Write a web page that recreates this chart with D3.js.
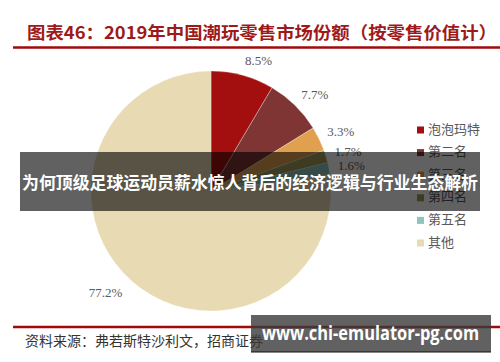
<!DOCTYPE html>
<html>
<head>
<meta charset="utf-8">
<script src="https://cdn.jsdelivr.net/npm/d3@7"></script>
<style>
  body { margin: 0; background: #fff; }
  svg { display: block; }
</style>
</head>
<body>
<div id="vis"></div>
<script>
// data
const categories = ['泡泡玛特', '第二名', '第三名', '第四名', '第五名', '其他'];
const shares = [8.5, 7.7, 3.3, 1.7, 1.6, 77.2];
const sliceColors = ['#A30F0F', '#7E3533', '#E0A050', '#A39B5E', '#8EC5BC', '#E8DAB2'];
const titleText = '图表46：2019年中国潮玩零售市场份额（按零售价值计）';
const sourceText = '资料来源：弗若斯特沙利文，招商证券';
const bannerText = '为何顶级足球运动员薪水惊人背后的经济逻辑与行业生态解析';
const watermarkText = 'www.chi-emulator-pg.com';

let width = 500, height = 362;

let svg = d3.select('#vis')
  .append('svg')
  .attr('width', width)
  .attr('height', height)
  .attr('viewBox', [0, 0, width, height].join(' '));

// title + rule
svg.append('text')
  .attr('x', 27).attr('y', 39)
  .attr('font-family', '"Noto Sans CJK SC", sans-serif')
  .attr('font-weight', 'bold')
  .attr('font-size', 17)
  .attr('fill', '#9E1A1A')
  .attr('textLength', 470)
  .attr('lengthAdjust', 'spacingAndGlyphs')
  .text(titleText);

svg.append('line')
  .attr('x1', 13).attr('x2', 500)
  .attr('y1', 47.5).attr('y2', 47.5)
  .attr('stroke', '#A00A0A')
  .attr('stroke-width', 2.5);

// pie
let cx = 211, cy = 191, r = 120;
let pie = d3.pie().sort(null).value(d => d);
let arcs = pie(shares);
let arc = d3.arc().innerRadius(0).outerRadius(r);
let labelArc = d3.arc().innerRadius(r + 9).outerRadius(r + 9);

let g = svg.append('g').attr('transform', `translate(${cx},${cy})`);

g.selectAll('path.slice')
  .data(arcs)
  .enter().append('path')
  .attr('class', 'slice')
  .attr('d', arc)
  .attr('fill', (d, i) => sliceColors[i])
  .attr('stroke', '#fff')
  .attr('stroke-width', 0.3);

g.selectAll('text.lbl')
  .data(arcs)
  .enter().append('text')
  .attr('class', 'lbl')
  .each(function (d) {
    let mid = (d.startAngle + d.endAngle) / 2;
    let p = labelArc.centroid(d);
    let right = Math.sin(mid) >= 0;
    d3.select(this)
      .attr('x', p[0] + (right ? 0 : -4))
      .attr('y', p[1] - 6 * Math.cos(mid) + 1)
      .attr('text-anchor', right ? 'start' : 'end');
  })
  .attr('dominant-baseline', 'middle')
  .attr('font-family', '"Liberation Serif", "Times New Roman", serif')
  .attr('font-size', 13)
  .attr('fill', '#595959')
  .text(d => d.data.toFixed(1) + '%');

// legend
let legend = svg.append('g').attr('transform', 'translate(417,130)');
let rowStep = 22.6;
let rows = legend.selectAll('g.row')
  .data(categories)
  .enter().append('g')
  .attr('class', 'row')
  .attr('transform', (d, i) => `translate(0,${i * rowStep})`);

rows.append('rect')
  .attr('x', 0).attr('y', -3.5)
  .attr('width', 7).attr('height', 7)
  .attr('fill', (d, i) => sliceColors[i]);

rows.append('text')
  .attr('x', 11).attr('y', 0)
  .attr('dominant-baseline', 'middle')
  .attr('font-family', '"Noto Sans CJK SC", sans-serif')
  .attr('font-size', 13)
  .attr('fill', '#595959')
  .text(d => d);

// bottom rule + source
svg.append('line')
  .attr('x1', 13).attr('x2', 500)
  .attr('y1', 327).attr('y2', 327)
  .attr('stroke', '#A00A0A')
  .attr('stroke-width', 2.5);

svg.append('text')
  .attr('x', 25).attr('y', 346)
  .attr('font-family', '"Noto Sans CJK SC", sans-serif')
  .attr('font-size', 14)
  .attr('fill', '#333')
  .text(sourceText);

// overlay banner
svg.append('rect')
  .attr('x', 20).attr('y', 152)
  .attr('width', 460).attr('height', 59)
  .attr('fill', '#000')
  .attr('fill-opacity', 0.62);

svg.append('text')
  .attr('x', 22).attr('y', 184)
  .attr('dominant-baseline', 'middle')
  .attr('font-family', '"Noto Sans CJK SC", sans-serif')
  .attr('font-weight', 'bold')
  .attr('font-size', 17)
  .attr('fill', '#fff')
  .attr('textLength', 456)
  .attr('lengthAdjust', 'spacingAndGlyphs')
  .text(bannerText);

// watermark box
svg.append('rect')
  .attr('x', 251).attr('y', 315)
  .attr('width', 240).attr('height', 37)
  .attr('fill', '#3a3a3a')
  .attr('fill-opacity', 0.8);

svg.append('line')
  .attr('x1', 251).attr('x2', 491)
  .attr('y1', 352).attr('y2', 352)
  .attr('stroke', '#111')
  .attr('stroke-width', 1);

svg.append('text')
  .attr('x', 262).attr('y', 335)
  .attr('dominant-baseline', 'middle')
  .attr('font-family', '"Open Sans", "DejaVu Sans", sans-serif')
  .attr('font-weight', 'bold')
  .attr('font-size', 20)
  .attr('fill', '#fff')
  .attr('textLength', 217)
  .attr('lengthAdjust', 'spacingAndGlyphs')
  .text(watermarkText);
</script>
</body>
</html>
